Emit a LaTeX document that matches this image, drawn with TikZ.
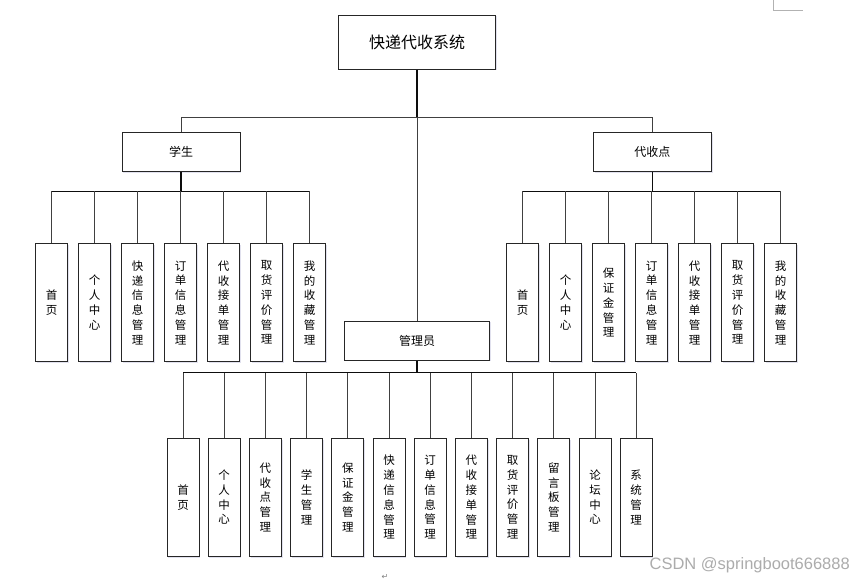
\documentclass[tikz,border=0pt]{standalone}
\usepackage{fontspec}
\setmainfont{Liberation Sans}
\newfontfamily\cjk{Noto Sans CJK SC}
\newfontfamily\dejavu{DejaVu Sans}
\usetikzlibrary{shadows}
\begin{document}
\begin{tikzpicture}[x=1pt,y=-1pt]
\tikzset{
  box/.style={draw=black!85, line width=0.9pt, fill=white, inner sep=0pt,
    drop shadow={shadow xshift=1.2pt, shadow yshift=-1.2pt, opacity=0.18, fill=blue!30!gray}},
  leaf/.style={box, minimum width=32pt, minimum height=118pt, align=center,
    font=\cjk\fontsize{11.5}{14.8}\selectfont},
  conn/.style={draw=black!75, line width=0.9pt},
  bus/.style={draw=black!95, line width=1.4pt},
}
\useasboundingbox (0,0) rectangle (854,580);
\fill[white] (0,0) rectangle (854,580);

% main nodes
\node[box, minimum width=157pt, minimum height=54pt, font=\cjk\fontsize{16}{18}\selectfont] (sys) at (417,42.3) {快递代收系统};
\node[box, minimum width=118pt, minimum height=39pt, font=\cjk\fontsize{12}{14}\selectfont] (stu) at (181,152.2) {学生};
\node[box, minimum width=118pt, minimum height=39pt, font=\cjk\fontsize{12}{14}\selectfont] (dai) at (652.3,152.2) {代收点};
\node[box, minimum width=145pt, minimum height=39pt, font=\cjk\fontsize{12}{14}\selectfont] (adm) at (417,340.7) {管理员};

% bus coordinates
\coordinate (topbus) at (417,117.3);
\coordinate (sbus) at (181,191.5);
\coordinate (dbus) at (652.3,191.5);
\coordinate (abus) at (417,372.7);

% student leaves
\foreach \t [count=\i] in {{首\\页},{个\\人\\中\\心},{快\\递\\信\\息\\管\\理},{订\\单\\信\\息\\管\\理},{代\\收\\接\\单\\管\\理},{取\\货\\评\\价\\管\\理},{我\\的\\收\\藏\\管\\理}}
  \node[leaf] (s\i) at ({51.5+43*(\i-1)},302.7) {\t};

% pickup point leaves
\foreach \t [count=\i] in {{首\\页},{个\\人\\中\\心},{保\\证\\金\\管\\理},{订\\单\\信\\息\\管\\理},{代\\收\\接\\单\\管\\理},{取\\货\\评\\价\\管\\理},{我\\的\\收\\藏\\管\\理}}
  \node[leaf] (d\i) at ({522.5+43*(\i-1)},302.7) {\t};

% admin leaves
\foreach \t [count=\i] in {{首\\页},{个\\人\\中\\心},{代\\收\\点\\管\\理},{学\\生\\管\\理},{保\\证\\金\\管\\理},{快\\递\\信\\息\\管\\理},{订\\单\\信\\息\\管\\理},{代\\收\\接\\单\\管\\理},{取\\货\\评\\价\\管\\理},{留\\言\\板\\管\\理},{论\\坛\\中\\心},{系\\统\\管\\理}}
  \node[leaf] (a\i) at ({183+41.2*(\i-1)},497.3) {\t};

% connectors
\draw[bus] (sys.south) -- (topbus);
\draw[conn] (topbus) -- (adm.north);
\draw[conn] (stu.north) -- (stu.north |- topbus) -- (dai.north |- topbus) -- (dai.north);

\draw[bus] (stu.south) -- (stu.south |- sbus);
\draw[bus] (s1.north |- sbus) -- (s7.north |- sbus);
\foreach \i in {1,...,7} \draw[conn] (s\i.north) -- (s\i.north |- sbus);

\draw[bus] (dai.south) -- (dai.south |- dbus);
\draw[bus] (d1.north |- dbus) -- (d7.north |- dbus);
\foreach \i in {1,...,7} \draw[conn] (d\i.north) -- (d\i.north |- dbus);

\draw[bus] (adm.south) -- (adm.south |- abus);
\draw[bus] (a1.north |- abus) -- (a12.north |- abus);
\foreach \i in {1,...,12} \draw[conn] (a\i.north) -- (a\i.north |- abus);

% page marks and watermark
\draw[gray!60, line width=0.8pt] (773,0) -- (773,10.5) -- (803,10.5);
\node[font=\dejavu\fontsize{8}{8}\selectfont, text=gray, inner sep=0pt] (ret) at (385,576.5) {↵};
\node[font=\fontsize{16.5}{16.5}\selectfont, text=gray!65, anchor=east, inner sep=0pt] (wm) at (850,565) {CSDN @springboot666888};
\end{tikzpicture}
\end{document}
